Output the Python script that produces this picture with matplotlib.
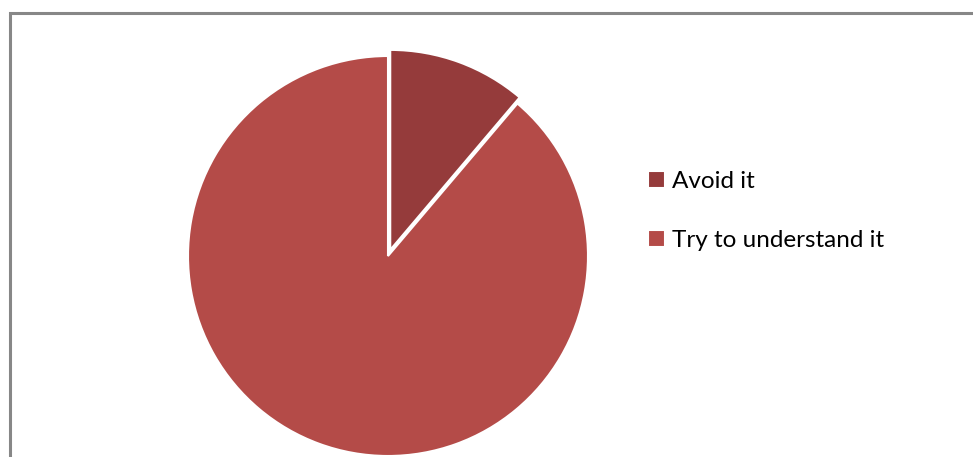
import matplotlib.pyplot as plt

# Survey answers (percent of respondents)
labels = ['Avoid it', 'Try to understand it']
shares = [11.2, 88.8]
colors = ['#953B3B', '#B44B48']

W, H = 973, 457
fig = plt.figure(figsize=(W / 100, H / 100), dpi=100)
ax = fig.add_axes([0, 0, 1, 1])

# pie in pixel-like data units, clockwise from 12 o'clock
wedges, _ = ax.pie(shares, colors=colors, startangle=90, counterclock=False,
                   center=(388, H - 256), radius=200, explode=[6.5, 0],
                   frame=True,
                   wedgeprops=dict(edgecolor='white', linewidth=1.5))

ax.set_xlim(0, W)
ax.set_ylim(0, H)
ax.set_aspect('equal')
ax.axis('off')

# chart area border (left and top edges visible)
ax.plot([9.5, 9.5, W], [0, H - 12.5, H - 12.5], color='#878787', lw=2.2,
        solid_joinstyle='miter', clip_on=False)

leg = ax.legend(wedges, labels, loc='upper left', frameon=False,
                bbox_to_anchor=(648 / W, 1 - 171 / H),
                prop={'family': 'Lato', 'size': 17.5},
                handlelength=0.68, handleheight=0.68, handletextpad=0.3,
                labelspacing=1.55, borderaxespad=0, borderpad=0)

fig.savefig('out.png', dpi=100)
